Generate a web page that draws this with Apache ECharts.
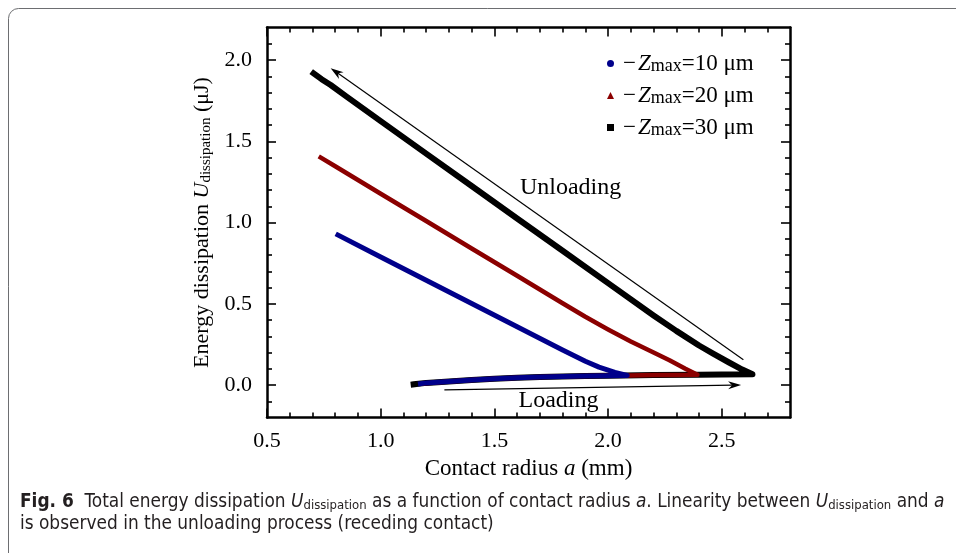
<!DOCTYPE html>
<html>
<head>
<meta charset="utf-8">
<script src="https://cdn.jsdelivr.net/npm/echarts@6/dist/echarts.min.js"></script>
<style>
html,body{margin:0;padding:0;background:#fff;}
#main{width:956px;height:553px;}
</style>
</head>
<body>
<div id="main"></div>
<script>
// ---- tick values ----
const xMajor = [0.5, 1.0, 1.5, 2.0, 2.5];
const xMinor = [0.6, 0.7, 0.8, 0.9, 1.1, 1.2, 1.3, 1.4, 1.6, 1.7, 1.8, 1.9, 2.1, 2.2, 2.3, 2.4, 2.6, 2.7];
const yMajor = [0.0, 0.5, 1.0, 1.5, 2.0];
const yMinor = [-0.1, 0.1, 0.2, 0.3, 0.4, 0.6, 0.7, 0.8, 0.9, 1.1, 1.2, 1.3, 1.4, 1.6, 1.7, 1.8, 1.9, 2.1];

// ---- series values [a (mm), U (uJ)] ----
const loading10 = [[1.175,0.008],[1.2,0.013],[1.3,0.022],[1.4,0.031],[1.5,0.038],[1.6,0.044],[1.7,0.049],[1.8,0.052],[1.9,0.055],[2.0,0.057],[2.084,0.059]];
const unloading10 = [[2.084,0.059],[2.03,0.078],[1.96,0.11],[1.9,0.146],[1.8,0.215],[1.6,0.358],[1.4,0.502],[1.2,0.645],[1.0,0.788],[0.812,0.923]];

const loading20 = [[1.19,0.010],[1.3,0.022],[1.4,0.031],[1.5,0.038],[1.6,0.044],[1.7,0.049],[1.8,0.052],[1.9,0.055],[2.0,0.057],[2.1,0.059],[2.2,0.061],[2.3,0.062],[2.393,0.063]];
const unloading20 = [[2.393,0.063],[2.34,0.1],[2.27,0.152],[2.2,0.2],[2.1,0.268],[2.0,0.342],[1.9,0.42],[1.8,0.503],[1.6,0.672],[1.4,0.84],[1.2,1.009],[1.0,1.177],[0.8,1.346],[0.736,1.40]];

const loading30 = [[1.145,0.004],[1.2,0.013],[1.3,0.022],[1.4,0.031],[1.5,0.038],[1.6,0.044],[1.7,0.049],[1.8,0.052],[1.9,0.055],[2.0,0.057],[2.2,0.061],[2.4,0.063],[2.5,0.064],[2.635,0.066]];
const unloading30 = [[2.635,0.066],[2.59,0.095],[2.53,0.14],[2.46,0.195],[2.4,0.243],[2.3,0.333],[2.2,0.428],[2.0,0.627],[1.8,0.826],[1.6,1.025],[1.4,1.225],[1.2,1.424],[1.0,1.624],[0.85,1.775],[0.78,1.846],[0.74,1.882],[0.705,1.918]];

// ---- annotations (data coordinates) ----
const unloadArrow = [[2.595, 0.155], [0.78, 1.95]];
const loadArrow = [[1.28, -0.03], [2.585, 0.0]];
const unloadLabelPos = [1.835, 1.212];
const loadLabelPos = [1.782, -0.098];

const serif = '"Liberation Serif","Times New Roman",serif';
const capFont = '"DejaVu Sans Condensed","Noto Sans",sans-serif';

function richSet(size, subSize, pad) {
  return {
    m: {fontFamily: serif, fontSize: size, color: '#000', lineHeight: size, verticalAlign: 'middle', padding: [0, 2, 0, 4]},
    t: {fontFamily: serif, fontSize: size, color: '#000', lineHeight: size, verticalAlign: 'middle'},
    i: {fontFamily: serif, fontSize: size, color: '#000', lineHeight: size, fontStyle: 'italic', verticalAlign: 'middle'},
    s: {fontFamily: serif, fontSize: subSize, color: '#000', lineHeight: subSize, verticalAlign: 'bottom', padding: [pad, 0, 0, 0]}
  };
}

const names = {
  s10: '{m|\u2212}{i|Z}{s|max}{t|=10 \u03bcm}',
  s20: '{m|\u2212}{i|Z}{s|max}{t|=20 \u03bcm}',
  s30: '{m|\u2212}{i|Z}{s|max}{t|=30 \u03bcm}'
};

function majorX(pos) {
  return {
    type: 'value', min: 0.5, max: 2.8, position: pos, gridIndex: 0,
    axisLine: {show: true, onZero: false, lineStyle: {color: '#000', width: 2.5}},
    axisTick: {show: true, inside: true, length: 9, customValues: xMajor, lineStyle: {color: '#000', width: 1.6}},
    axisLabel: {show: pos === 'bottom', customValues: xMajor, formatter: v => v.toFixed(1), fontFamily: serif, fontSize: 22, color: '#000', margin: 13},
    splitLine: {show: false}
  };
}
function minorX(pos) {
  return {
    type: 'value', min: 0.5, max: 2.8, position: pos, gridIndex: 0,
    axisLine: {show: false, onZero: false},
    axisTick: {show: true, inside: true, length: 5, customValues: xMinor, lineStyle: {color: '#000', width: 1.6}},
    axisLabel: {show: false},
    splitLine: {show: false}
  };
}
function majorY(pos) {
  return {
    type: 'value', min: -0.2, max: 2.2, position: pos, gridIndex: 0,
    axisLine: {show: true, onZero: false, lineStyle: {color: '#000', width: 2.5}},
    axisTick: {show: true, inside: true, length: 9, customValues: yMajor, lineStyle: {color: '#000', width: 1.6}},
    axisLabel: {show: pos === 'left', customValues: yMajor, formatter: v => v.toFixed(1), fontFamily: serif, fontSize: 22, color: '#000', margin: 15},
    splitLine: {show: false}
  };
}
function minorY(pos) {
  return {
    type: 'value', min: -0.2, max: 2.2, position: pos, gridIndex: 0,
    axisLine: {show: false, onZero: false},
    axisTick: {show: true, inside: true, length: 5, customValues: yMinor, lineStyle: {color: '#000', width: 1.6}},
    axisLabel: {show: false},
    splitLine: {show: false}
  };
}

const xAxes = [majorX('bottom'), minorX('bottom'), majorX('top'), minorX('top')];
xAxes[0].name = '{t|Contact radius }{i|a}{t| (mm)}';
xAxes[0].nameLocation = 'middle';
xAxes[0].nameGap = 37;
xAxes[0].nameTextStyle = {rich: richSet(23, 16, 14)};

const yAxes = [majorY('left'), minorY('left'), majorY('right'), minorY('right')];
yAxes[0].name = '{t|Energy dissipation }{i|U}{s|dissipation}{t| (\u03bcJ)}';
yAxes[0].nameLocation = 'middle';
yAxes[0].nameGap = 40;
yAxes[0].nameRotate = 90;
yAxes[0].nameTextStyle = {rich: richSet(22, 15, 14)};

function curve(name, load, unload, color, width, z) {
  return {
    name: name, type: 'line', xAxisIndex: 0, yAxisIndex: 0,
    data: load.concat(unload.slice(1)),
    showSymbol: false, symbol: 'none',
    itemStyle: {color: color},
    lineStyle: {color: color, width: width, join: 'round', cap: 'square'},
    z: z, animation: false, silent: true
  };
}

const option = {
  animation: false,
  backgroundColor: '#fff',
  grid: {left: 267, right: 166, top: 27.5, bottom: 135.5},
  xAxis: xAxes,
  yAxis: yAxes,
  legend: {
    orient: 'vertical', left: 602, top: 39, itemGap: 1,
    itemWidth: 7, itemHeight: 7,
    data: [{name: 's10', icon: 'circle'}, {name: 's20', icon: 'triangle'}, {name: 's30', icon: 'rect'}],
    formatter: n => names[n],
    textStyle: {rich: richSet(23, 18, 13)}
  },
  series: [
    curve('s30', loading30, unloading30, '#000000', 6, 2),
    curve('s20', loading20, unloading20, '#8b0000', 4.5, 3),
    curve('s10', loading10, unloading10, '#00008b', 5, 4)
  ],
  graphic: [
    {
      type: 'rect', id: 'border', silent: true,
      shape: {x: 8.5, y: 8.5, width: 1100, height: 700, r: [10, 0, 0, 0]},
      style: {fill: 'none', stroke: '#6d6e71', lineWidth: 1}
    },
    {
      type: 'text', id: 'cap1', left: 20, top: 487, silent: true,
      style: {
        text: '{b|Fig. 6}{r|  Total energy dissipation }{ri|U}{sub|dissipation}{r| as a function of contact radius }{ri|a}{r|. Linearity between }{ri|U}{sub|dissipation}{r| and }{ri|a}',
        rich: {
          b: {fontFamily: capFont, fontSize: 18.9, fontWeight: 'bold', fill: '#231f20', lineHeight: 20, verticalAlign: 'middle'},
          r: {fontFamily: capFont, fontSize: 18.9, fill: '#231f20', lineHeight: 20, verticalAlign: 'middle'},
          ri: {fontFamily: capFont, fontSize: 18.9, fontStyle: 'italic', fill: '#231f20', lineHeight: 20, verticalAlign: 'middle'},
          sub: {fontFamily: capFont, fontSize: 13, fill: '#231f20', lineHeight: 13, verticalAlign: 'bottom', padding: [12, 0, 0, 0]}
        }
      }
    },
    {
      type: 'text', id: 'cap2', left: 20, top: 515, silent: true,
      style: {
        text: 'is observed in the unloading process (receding contact)',
        font: '18.9px ' + capFont, fill: '#231f20'
      }
    }
  ]
};

const chart = echarts.init(document.getElementById('main'));
chart.setOption(option);

function px(p) { return chart.convertToPixel({xAxisIndex: 0, yAxisIndex: 0}, p); }
function arrow(id, from, to) {
  const a = px(from), b = px(to);
  const dx = b[0] - a[0], dy = b[1] - a[1];
  const L = Math.sqrt(dx * dx + dy * dy);
  const ux = dx / L, uy = dy / L, nx = -uy, ny = ux;
  const len = 13, half = 4, notch = 9;
  const back = [b[0] - ux * len, b[1] - uy * len];
  const mid = [b[0] - ux * notch, b[1] - uy * notch];
  return [
    {type: 'line', id: id + 'l', silent: true, z: 10,
     shape: {x1: a[0], y1: a[1], x2: mid[0], y2: mid[1]},
     style: {stroke: '#000', lineWidth: 1.2}},
    {type: 'polygon', id: id + 'h', silent: true, z: 10,
     shape: {points: [b, [back[0] + nx * half, back[1] + ny * half], mid, [back[0] - nx * half, back[1] - ny * half]]},
     style: {fill: '#000'}}
  ];
}
const pU = px(unloadLabelPos);
const pL = px(loadLabelPos);
chart.setOption({
  graphic: [].concat(
    arrow('ua', unloadArrow[0], unloadArrow[1]),
    arrow('la', loadArrow[0], loadArrow[1]),
    [
      {type: 'text', id: 'unl', x: pU[0], y: pU[1], silent: true,
       style: {text: 'Unloading', font: '24px ' + serif, fill: '#000', align: 'center', verticalAlign: 'middle'}},
      {type: 'text', id: 'lod', x: pL[0], y: pL[1], silent: true,
       style: {text: 'Loading', font: '24px ' + serif, fill: '#000', align: 'center', verticalAlign: 'middle'}}
    ]
  )
});
</script>
</body>
</html>
